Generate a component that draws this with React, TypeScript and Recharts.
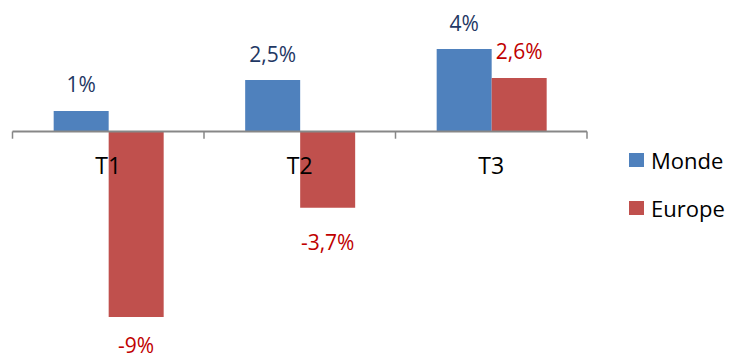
import React from 'react';
import { BarChart, Bar, XAxis, YAxis, ReferenceLine, ReferenceDot, Legend, LabelList } from 'recharts';

const categories = ['T1', 'T2', 'T3'];
const seriesNames = ['Monde', 'Europe'];
const monde = [1, 2.5, 4];
const europe = [-9, -3.7, 2.6];

const data = categories.map((c, i) => ({ name: c, monde: monde[i], europe: europe[i] }));

const W = 732;
const H = 349;
const FONT = "'Open Sans', 'Noto Sans', sans-serif";
const AXIS = '#878787';

const fmt = (v: number) => `${String(v).replace('.', ',')}%`;

const makeLabel = (color: string) => (props: any) => {
  const { x, y, width, height, value } = props;
  const top = Math.min(y, y + height);
  const bottom = Math.max(y, y + height);
  const v = Number(value);
  const baseline = v >= 0 ? top - 18.5 : Math.min(bottom + 42, H - 4.5);
  return (
    <text x={x + width / 2} y={baseline} textAnchor="middle" fill={color} fontSize={21} fontFamily={FONT}>
      {fmt(v)}
    </text>
  );
};

const renderLegend = (props: any) => {
  const items = [...(props.payload || [])].sort(
    (a: any, b: any) => seriesNames.indexOf(a.value) - seriesNames.indexOf(b.value)
  );
  return (
    <div style={{ display: 'flex', flexDirection: 'column' }}>
      {items.map((p: any) => (
        <div key={p.value} style={{ height: 48, display: 'flex', alignItems: 'center' }}>
          <span style={{ display: 'inline-block', width: 15, height: 14, background: p.color, marginRight: 7 }} />
          <span style={{ fontSize: 22, fontFamily: FONT, color: '#000', lineHeight: '48px' }}>{p.value}</span>
        </div>
      ))}
    </div>
  );
};

export default function App() {
  const last = categories[categories.length - 1];
  return (
    <div style={{ width: W, height: H }}>
      <BarChart
        width={W}
        height={H}
        data={data}
        margin={{ top: 20.5, right: 153, bottom: 19.5, left: 4.5 }}
        barCategoryGap="21.5%"
        barGap={0}
      >
        <XAxis dataKey="name" hide />
        <YAxis hide domain={[-10, 5]} />
        <Bar dataKey="monde" name={seriesNames[0]} fill="#4F81BD" isAnimationActive={false}>
          <LabelList dataKey="monde" content={makeLabel('#1F3864')} />
        </Bar>
        <Bar dataKey="europe" name={seriesNames[1]} fill="#C0504D" isAnimationActive={false}>
          <LabelList dataKey="europe" content={makeLabel('#C00000')} />
        </Bar>
        <ReferenceLine y={0} stroke={AXIS} strokeWidth={2} />
        {categories.map((c) => (
          <ReferenceLine
            key={'tick-' + c}
            segment={[{ x: c, y: 0 }, { x: c, y: -0.35 }]}
            position="start"
            stroke={AXIS}
            strokeWidth={1.5}
          />
        ))}
        <ReferenceLine
          segment={[{ x: last, y: 0 }, { x: last, y: -0.35 }]}
          position="end"
          stroke={AXIS}
          strokeWidth={1.5}
        />
        {categories.map((c) => (
          <ReferenceDot
            key={'lbl-' + c}
            x={c}
            y={-1.65}
            r={0}
            fill="none"
            stroke="none"
            label={{ value: c, position: 'center', fontSize: 23, fill: '#000', fontFamily: FONT }}
          />
        ))}
        <Legend
          layout="vertical"
          align="center"
          verticalAlign="middle"
          content={renderLegend}
          wrapperStyle={{ left: 621, top: 127.5, width: 111 }}
        />
      </BarChart>
    </div>
  );
}
